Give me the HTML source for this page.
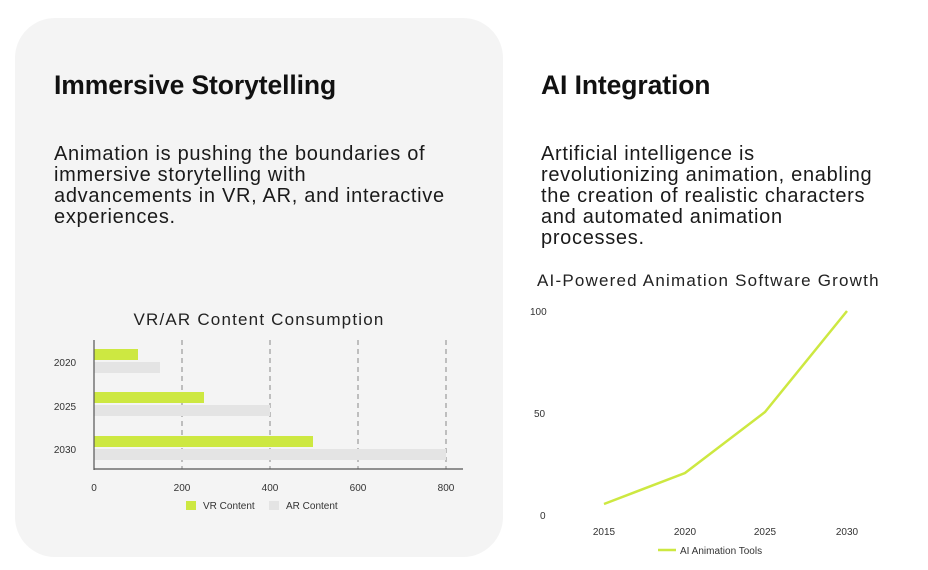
<!DOCTYPE html>
<html><head><meta charset="utf-8"><style>
html,body{margin:0;padding:0;background:#fff;width:928px;height:570px;overflow:hidden;font-family:"Liberation Sans",sans-serif;color:#1a1a1a}
.card{position:absolute;left:15px;top:18px;width:488px;height:539px;background:#f4f4f4;border-radius:40px}
h1{position:absolute;margin:0;font-size:26.5px;font-weight:bold;letter-spacing:-0.1px;color:#111;white-space:nowrap}
p{position:absolute;margin:0;font-size:20px;line-height:21px;letter-spacing:0.7px;color:#1a1a1a;white-space:nowrap}
svg{position:absolute;left:0;top:0}
</style></head><body>
<div class="card"></div>
<h1 style="left:54px;top:70px">Immersive Storytelling</h1>
<h1 style="left:541px;top:70px">AI Integration</h1>
<p style="left:54px;top:144px">Animation is pushing the boundaries of<br>immersive storytelling with<br>advancements in VR, AR, and interactive<br>experiences.</p>
<p style="left:541px;top:144px">Artificial intelligence is<br>revolutionizing animation, enabling<br>the creation of realistic characters<br>and automated animation<br>processes.</p>
<svg width="928" height="570" font-family="Liberation Sans, sans-serif">
<text x="259" y="325" font-size="17" letter-spacing="1.2" text-anchor="middle" fill="#222">VR/AR Content Consumption</text>
<g stroke="#888" stroke-dasharray="5,4" stroke-width="1">
<line x1="182" y1="340" x2="182" y2="469"/><line x1="270" y1="340" x2="270" y2="469"/><line x1="358" y1="340" x2="358" y2="469"/><line x1="446" y1="340" x2="446" y2="469"/></g>
<g fill="#cde841"><rect x="94" y="349" width="44" height="11"/><rect x="94" y="392" width="110" height="11"/><rect x="94" y="436" width="219" height="11"/></g>
<g fill="#e4e4e4"><rect x="94" y="362" width="66" height="11"/><rect x="94" y="405" width="176" height="11"/><rect x="94" y="449" width="352" height="11"/></g>
<line x1="94" y1="340" x2="94" y2="470" stroke="#555" stroke-width="1.2"/>
<line x1="94" y1="469" x2="463" y2="469" stroke="#555" stroke-width="1.2"/>
<g font-size="10" fill="#333" text-anchor="middle"><text x="65" y="366">2020</text><text x="65" y="410">2025</text><text x="65" y="453">2030</text>
<text x="94" y="491">0</text><text x="182" y="491">200</text><text x="270" y="491">400</text><text x="358" y="491">600</text><text x="446" y="491">800</text></g>
<rect x="186" y="501" width="10" height="9" fill="#cde841"/><text x="203" y="509" font-size="10" fill="#333">VR Content</text>
<rect x="269" y="501" width="10" height="9" fill="#e4e4e4"/><text x="286" y="509" font-size="10" fill="#333">AR Content</text>
<text x="537" y="286" font-size="17" letter-spacing="1.2" fill="#222">AI-Powered Animation Software Growth</text>
<g font-size="10" fill="#333"><text x="530" y="315">100</text><text x="534" y="417">50</text><text x="540" y="519">0</text></g>
<g font-size="10" fill="#333" text-anchor="middle"><text x="604" y="535">2015</text><text x="685" y="535">2020</text><text x="765" y="535">2025</text><text x="847" y="535">2030</text></g>
<polyline points="604,504 685,473 765,412 847,311" fill="none" stroke="#cde841" stroke-width="2.5"/>
<line x1="658" y1="550" x2="676" y2="550" stroke="#cde841" stroke-width="2.5"/>
<text x="680" y="554" font-size="10" fill="#333">AI Animation Tools</text>
</svg>
</body></html>
